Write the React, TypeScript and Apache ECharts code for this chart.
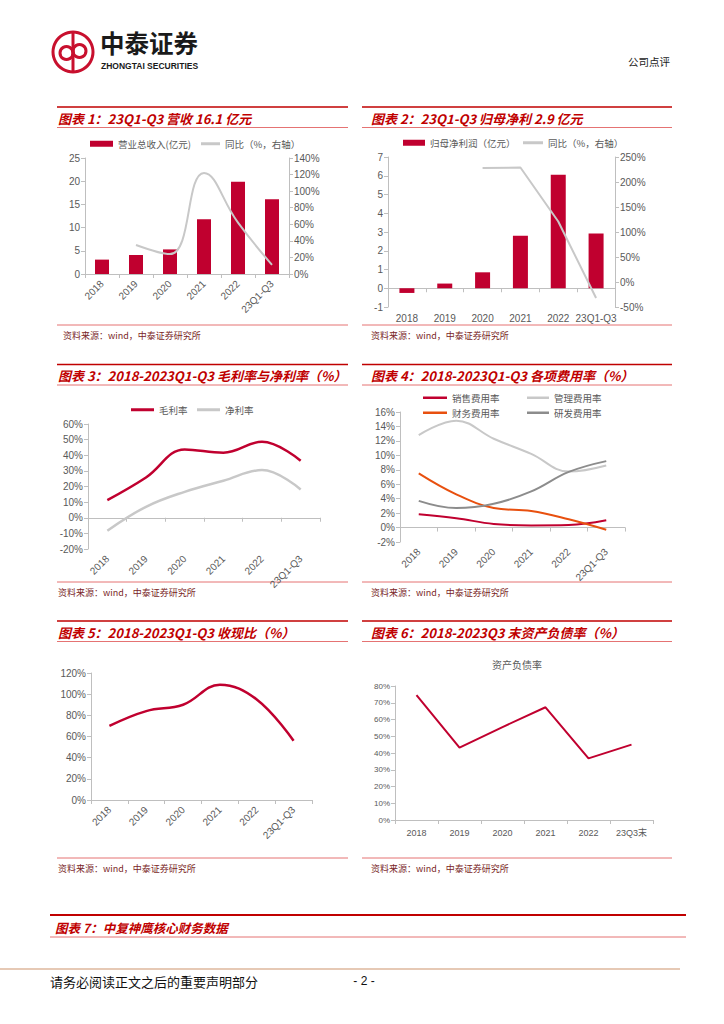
import React, { useEffect, useRef } from "react";
import * as echarts from "echarts";

const years = ["2018", "2019", "2020", "2021", "2022", "23Q1-Q3"];
const debtYears = ["2018", "2019", "2020", "2021", "2022", "23Q3末"];

const revenue = [3.1, 4.1, 5.3, 11.8, 19.9, 16.1];
const revenueYoy = [null, 35, 24, 122, 62, 11];
const netProfit = [-0.25, 0.25, 0.85, 2.8, 6.05, 2.92];
const netProfitYoy = [null, null, 228, 229, 121, -32];
const grossMargin = [11.3, 25.8, 43.7, 41.6, 48.6, 36.5];
const netMargin = [-8.3, 7, 16.6, 23.7, 30.5, 18.1];
const salesRate = [1.85, 1.3, 0.5, 0.3, 0.35, 1.0];
const adminRate = [12.8, 14.8, 12.3, 10.2, 7.75, 8.6];
const financeRate = [7.5, 4.6, 2.7, 2.3, 1.15, -0.3];
const rdRate = [3.7, 2.7, 3.3, 5.0, 7.7, 9.2];
const cashRatio = [70, 84, 90, 109, 95, 56];
const debtRatio = [74.6, 43.2, 55.5, 67.3, 36.8, 45];

const panelTitles = [
  "图表 1：23Q1-Q3 营收 16.1 亿元",
  "图表 2：23Q1-Q3 归母净利 2.9 亿元",
  "图表 3：2018-2023Q1-Q3 毛利率与净利率（%）",
  "图表 4：2018-2023Q1-Q3 各项费用率（%）",
  "图表 5：2018-2023Q1-Q3 收现比（%）",
  "图表 6：2018-2023Q3 末资产负债率（%）",
];
const sourceText = "资料来源：wind，中泰证券研究所";

const RED = "#c0002f";
const TITLE_RED = "#c00000";
const LIGHT_RED = "#e57373";
const GREY_LINE = "#c8c8c8";
const DARK_GREY = "#8c8c8c";
const ORANGE = "#e8500f";
const AXIS = "#bfbfbf";
const LABEL = "#595959";
const CJK = '"Noto Sans CJK SC", sans-serif';
const LAT = '"Liberation Sans", "Noto Sans CJK SC", Arial, sans-serif';

function catAxis(gridIndex: number, data: string[], rotate: number, fontSize = 10, margin = 8) {
  return {
    type: "category",
    gridIndex,
    data,
    boundaryGap: true,
    axisLine: { show: true, onZero: true, lineStyle: { color: AXIS, width: 1 } },
    axisTick: { show: true, length: 4, lineStyle: { color: AXIS } },
    axisLabel: { interval: 0, rotate, color: LABEL, fontSize, fontFamily: LAT, margin },
    splitLine: { show: false },
  };
}

function valAxis(
  gridIndex: number,
  min: number,
  max: number,
  interval: number,
  pct: boolean,
  position = "left",
  fontSize = 10
) {
  return {
    type: "value",
    gridIndex,
    min,
    max,
    interval,
    position,
    axisLine: { show: true, lineStyle: { color: AXIS, width: 1 } },
    axisTick: { show: true, length: 4, lineStyle: { color: AXIS } },
    axisLabel: {
      color: LABEL,
      fontSize,
      fontFamily: LAT,
      margin: 5,
      formatter: pct ? "{value}%" : "{value}",
    },
    splitLine: { show: false },
  };
}

function legendItem(name: string, left: number, top: number, w: number, h: number, label?: string) {
  return {
    data: [{ name, icon: "rect" }],
    left,
    top,
    padding: 0,
    itemWidth: w,
    itemHeight: h,
    selectedMode: false,
    formatter: label ? label : "{name}",
    textStyle: { fontSize: 9.5, color: LABEL, fontFamily: CJK },
  };
}

function panelGraphics(x1: number, x2: number, top: number, title: string, tx: number, sy: number, sx: number) {
  return [
    { type: "line", shape: { x1, y1: top, x2, y2: top }, style: { stroke: TITLE_RED, lineWidth: 1.6 } },
    {
      type: "text",
      x: tx,
      y: top + 11,
      style: {
        text: title,
        fill: TITLE_RED,
        fontSize: 13,
        fontWeight: "bold",
        fontStyle: "italic",
        fontFamily: CJK,
        align: "left",
        verticalAlign: "middle",
      },
    },
    { type: "line", shape: { x1, y1: top + 20.5, x2, y2: top + 20.5 }, style: { stroke: LIGHT_RED, lineWidth: 1 } },
    { type: "line", shape: { x1, y1: sy, x2, y2: sy }, style: { stroke: LIGHT_RED, lineWidth: 1 } },
    {
      type: "text",
      x: sx,
      y: sy + 10.5,
      style: {
        text: sourceText,
        fill: "#7a1f1f",
        fontSize: 9,
        fontFamily: CJK,
        align: "left",
        verticalAlign: "middle",
      },
    },
  ];
}

export default function App() {
  const ref = useRef<HTMLDivElement>(null);

  useEffect(() => {
    if (!ref.current) return;
    const chart = echarts.init(ref.current, undefined, { renderer: "svg" });

    const lineBase = (width: number) => ({
      type: "line",
      symbol: "none",
      showSymbol: false,
      connectNulls: false,
      lineStyle: { width },
    });

    const graphic: any[] = [
      // logo
      { type: "ring", shape: { cx: 73, cy: 52, r: 21.5, r0: 18.5 }, style: { fill: "#c8102e" } },
      { type: "line", shape: { x1: 73, y1: 33, x2: 73, y2: 71 }, style: { stroke: "#c8102e", lineWidth: 3 } },
      { type: "circle", shape: { cx: 66.5, cy: 53, r: 6.5 }, style: { fill: "none", stroke: "#c8102e", lineWidth: 3 } },
      { type: "circle", shape: { cx: 79.5, cy: 51, r: 6.5 }, style: { fill: "none", stroke: "#c8102e", lineWidth: 3 } },
      {
        type: "text",
        x: 100,
        y: 42.5,
        style: { text: "中泰证券", fill: "#1a1a1a", fontSize: 24.5, fontWeight: "bold", fontFamily: CJK, verticalAlign: "middle" },
      },
      {
        type: "text",
        x: 101,
        y: 66,
        style: { text: "ZHONGTAI SECURITIES", fill: "#1a1a1a", fontSize: 8.5, fontWeight: "bold", fontFamily: LAT, verticalAlign: "middle" },
      },
      {
        type: "text",
        x: 628,
        y: 61,
        style: { text: "公司点评", fill: "#1a1a1a", fontSize: 10.5, fontFamily: CJK, verticalAlign: "middle" },
      },
      ...panelGraphics(57, 348, 107, panelTitles[0], 58, 325, 63),
      ...panelGraphics(362, 672, 107, panelTitles[1], 371, 325, 371),
      ...panelGraphics(57, 348, 364.5, panelTitles[2], 58, 582, 58),
      ...panelGraphics(362, 672, 364.5, panelTitles[3], 371, 582, 371),
      ...panelGraphics(57, 348, 621, panelTitles[4], 58, 858, 58),
      ...panelGraphics(362, 672, 621, panelTitles[5], 371, 858, 371),
      {
        type: "text",
        x: 517,
        y: 664,
        style: { text: "资产负债率", fill: LABEL, fontSize: 10, fontFamily: CJK, align: "center", verticalAlign: "middle" },
      },
      // chart 7 header
      { type: "line", shape: { x1: 50, y1: 915, x2: 686, y2: 915 }, style: { stroke: TITLE_RED, lineWidth: 2 } },
      {
        type: "text",
        x: 55,
        y: 927,
        style: {
          text: "图表 7：中复神鹰核心财务数据",
          fill: TITLE_RED,
          fontSize: 12.5,
          fontWeight: "bold",
          fontStyle: "italic",
          fontFamily: CJK,
          verticalAlign: "middle",
        },
      },
      { type: "line", shape: { x1: 50, y1: 937, x2: 686, y2: 937 }, style: { stroke: LIGHT_RED, lineWidth: 1 } },
      // footer
      { type: "line", shape: { x1: 0, y1: 969, x2: 680, y2: 969 }, style: { stroke: "#e6c9b5", lineWidth: 2 } },
      {
        type: "text",
        x: 50,
        y: 981,
        style: { text: "请务必阅读正文之后的重要声明部分", fill: "#111", fontSize: 13, fontFamily: CJK, verticalAlign: "middle" },
      },
      {
        type: "text",
        x: 364,
        y: 981,
        style: { text: "- 2 -", fill: "#111", fontSize: 12, fontFamily: LAT, align: "center", verticalAlign: "middle" },
      },
    ];

    const option: any = {
      animation: false,
      backgroundColor: "#ffffff",
      grid: [
        { left: 85, top: 158, width: 204, height: 116, outerBoundsMode: "none" },
        { left: 388, top: 157, width: 227, height: 150, outerBoundsMode: "none" },
        { left: 88, top: 424, width: 232, height: 125, outerBoundsMode: "none" },
        { left: 400, top: 412, width: 225, height: 130, outerBoundsMode: "none" },
        { left: 91, top: 673, width: 221, height: 127, outerBoundsMode: "none" },
        { left: 395, top: 686, width: 258, height: 134, outerBoundsMode: "none" },
      ],
      xAxis: [
        catAxis(0, years, 45),
        catAxis(1, years, 0, 10, 6),
        catAxis(2, years, 45),
        catAxis(3, years, 45),
        catAxis(4, years, 45),
        catAxis(5, debtYears, 0, 9, 8),
      ],
      yAxis: [
        valAxis(0, 0, 25, 5, false, "left"),
        valAxis(0, 0, 140, 20, true, "right"),
        valAxis(1, -1, 7, 1, false, "left"),
        valAxis(1, -50, 250, 50, true, "right"),
        valAxis(2, -20, 60, 10, true, "left"),
        valAxis(3, -2, 16, 2, true, "left"),
        valAxis(4, 0, 120, 20, true, "left"),
        valAxis(5, 0, 80, 10, true, "left", 8),
      ],
      legend: [
        legendItem("营业总收入(亿元)", 90, 139, 23, 6),
        legendItem("同比1", 201, 139, 19, 3, "同比（%，右轴）"),
        legendItem("归母净利润（亿元）", 403, 138, 22, 6),
        legendItem("同比2", 523, 138, 20, 3, "同比（%，右轴）"),
        legendItem("毛利率", 131, 405, 23, 3),
        legendItem("净利率", 197, 405, 23, 3),
        legendItem("销售费用率", 423, 393, 24, 2.5),
        legendItem("管理费用率", 527, 393, 22, 2.5),
        legendItem("财务费用率", 423, 408, 24, 2.5),
        legendItem("研发费用率", 527, 408, 22, 2.5),
      ],
      series: [
        {
          name: "营业总收入(亿元)",
          type: "bar",
          xAxisIndex: 0,
          yAxisIndex: 0,
          data: revenue,
          barWidth: 14,
          itemStyle: { color: RED },
        },
        {
          ...lineBase(2),
          name: "同比1",
          xAxisIndex: 0,
          yAxisIndex: 1,
          data: revenueYoy,
          smooth: 0.45,
          itemStyle: { color: GREY_LINE },
          lineStyle: { width: 2, color: GREY_LINE },
        },
        {
          name: "归母净利润（亿元）",
          type: "bar",
          xAxisIndex: 1,
          yAxisIndex: 2,
          data: netProfit,
          barWidth: 15,
          itemStyle: { color: RED },
        },
        {
          ...lineBase(2),
          name: "同比2",
          xAxisIndex: 1,
          yAxisIndex: 3,
          data: netProfitYoy,
          itemStyle: { color: GREY_LINE },
          lineStyle: { width: 2, color: GREY_LINE },
        },
        {
          ...lineBase(2.5),
          name: "毛利率",
          xAxisIndex: 2,
          yAxisIndex: 4,
          data: grossMargin,
          smooth: 0.4,
          itemStyle: { color: RED },
          lineStyle: { width: 2.5, color: RED },
        },
        {
          ...lineBase(2.5),
          name: "净利率",
          xAxisIndex: 2,
          yAxisIndex: 4,
          data: netMargin,
          smooth: 0.4,
          itemStyle: { color: GREY_LINE },
          lineStyle: { width: 2.5, color: GREY_LINE },
        },
        {
          ...lineBase(2),
          name: "销售费用率",
          xAxisIndex: 3,
          yAxisIndex: 5,
          data: salesRate,
          smooth: 0.4,
          itemStyle: { color: RED },
          lineStyle: { width: 2, color: RED },
        },
        {
          ...lineBase(2),
          name: "管理费用率",
          xAxisIndex: 3,
          yAxisIndex: 5,
          data: adminRate,
          smooth: 0.4,
          itemStyle: { color: GREY_LINE },
          lineStyle: { width: 2, color: GREY_LINE },
        },
        {
          ...lineBase(2),
          name: "财务费用率",
          xAxisIndex: 3,
          yAxisIndex: 5,
          data: financeRate,
          smooth: 0.4,
          itemStyle: { color: ORANGE },
          lineStyle: { width: 2, color: ORANGE },
        },
        {
          ...lineBase(2),
          name: "研发费用率",
          xAxisIndex: 3,
          yAxisIndex: 5,
          data: rdRate,
          smooth: 0.4,
          itemStyle: { color: DARK_GREY },
          lineStyle: { width: 2, color: DARK_GREY },
        },
        {
          ...lineBase(2.5),
          name: "收现比",
          xAxisIndex: 4,
          yAxisIndex: 6,
          data: cashRatio,
          smooth: 0.4,
          itemStyle: { color: RED },
          lineStyle: { width: 2.5, color: RED },
        },
        {
          ...lineBase(2),
          name: "资产负债率",
          xAxisIndex: 5,
          yAxisIndex: 7,
          data: debtRatio,
          itemStyle: { color: RED },
          lineStyle: { width: 2, color: RED },
        },
      ],
      graphic,
    };

    chart.setOption(option);
    return () => chart.dispose();
  }, []);

  return (
    <div
      ref={ref}
      style={{ position: "absolute", left: 0, top: 0, width: 724, height: 1024, background: "#fff" }}
    />
  );
}
